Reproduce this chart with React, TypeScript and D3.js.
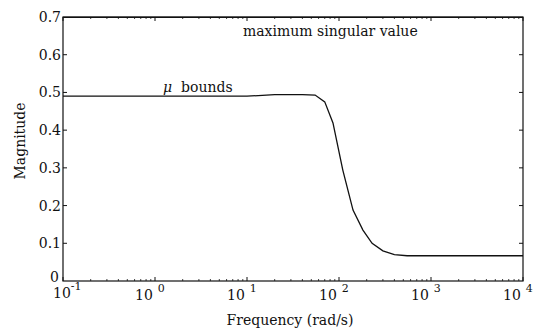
import * as React from 'react';
import * as d3 from 'd3';

// mu bounds curve (frequency in rad/s, magnitude)
const muFreq = [0.1, 1, 10, 20, 40, 55, 70, 86, 110, 142, 182, 229, 300, 400, 550, 1000, 3000, 10000];
const muMag = [0.49, 0.49, 0.49, 0.494, 0.494, 0.493, 0.475, 0.419, 0.294, 0.188, 0.135, 0.1, 0.08, 0.07, 0.067, 0.067, 0.067, 0.067];
// maximum singular value sits at the top of the frame
const svFreq = [0.1, 10000];
const svMag = [0.699, 0.699];

const yTicks = [0, 0.1, 0.2, 0.3, 0.4, 0.5, 0.6, 0.7];
const xDecades = [-1, 0, 1, 2, 3, 4];

const W = 533;
const H = 331;
const margin = { left: 63, right: 10, top: 17, bottom: 50 };
const font = '"DejaVu Serif", "Liberation Serif", serif';

const App: React.FunctionComponent = () => {
    const ref = React.useRef<SVGSVGElement>(null);

    React.useEffect(() => {
        if (!ref.current) {
            return;
        }
        const svg = d3.select(ref.current);
        svg.selectAll('*').remove();

        const x = d3.scaleLog().domain([0.1, 10000]).range([margin.left, W - margin.right]);
        const y = d3.scaleLinear().domain([0, 0.7]).range([H - margin.bottom, margin.top]);
        const [x0, x1] = x.range();
        const [y0, y1] = y.range();

        const g = svg.append('g');

        // frame
        g.append('rect')
            .attr('x', x0).attr('y', y1)
            .attr('width', x1 - x0).attr('height', y0 - y1)
            .attr('fill', 'none').attr('stroke', '#111').attr('stroke-width', 1.2);

        // y ticks, left and right, inward
        yTicks.forEach(t => {
            if (t === 0 || t === 0.7) return;
            g.append('line').attr('x1', x0).attr('x2', x0 + 4).attr('y1', y(t)).attr('y2', y(t)).attr('stroke', '#111');
            g.append('line').attr('x1', x1).attr('x2', x1 - 4).attr('y1', y(t)).attr('y2', y(t)).attr('stroke', '#111');
        });
        g.selectAll('text.ytick')
            .data(yTicks)
            .join('text')
            .attr('class', 'ytick')
            .attr('x', d => d === 0 ? x0 - 4 : x0 - 2)
            .attr('y', d => d === 0 ? y(d) + 1 : y(d) + 5)
            .attr('text-anchor', 'end')
            .attr('font-family', font)
            .attr('font-size', 14)
            .attr('fill', '#111')
            .text(d => d === 0 ? '0' : d3.format('.1f')(d));

        // x minor/major ticks on bottom and top
        const minor: number[] = [];
        xDecades.slice(0, -1).forEach(e => {
            for (let m = 2; m <= 9; m++) minor.push(m * Math.pow(10, e));
        });
        minor.forEach(v => {
            g.append('line').attr('x1', x(v)).attr('x2', x(v)).attr('y1', y0).attr('y2', y0 - 2).attr('stroke', '#111').attr('stroke-width', 0.8);
            g.append('line').attr('x1', x(v)).attr('x2', x(v)).attr('y1', y1).attr('y2', y1 + 2).attr('stroke', '#111').attr('stroke-width', 0.8);
        });
        xDecades.forEach(e => {
            const v = Math.pow(10, e);
            g.append('line').attr('x1', x(v)).attr('x2', x(v)).attr('y1', y0).attr('y2', y0 - 4).attr('stroke', '#111');
            g.append('line').attr('x1', x(v)).attr('x2', x(v)).attr('y1', y1).attr('y2', y1 + 4).attr('stroke', '#111');
            const t = g.append('text')
                .attr('x', e < 0 ? x(v) - 10 : x(v) - 20)
                .attr('y', e < 0 ? y0 + 17 : y0 + 19)
                .attr('font-family', font)
                .attr('font-size', 14)
                .attr('fill', '#111');
            t.append('tspan').text('10');
            t.append('tspan').attr('dy', -8).attr('dx', e < 0 ? 0 : 5).attr('font-size', 11).text(String(e));
        });

        // curves
        const line = d3.line<[number, number]>().x(d => x(d[0])).y(d => y(d[1]));
        g.append('path')
            .attr('d', line(muFreq.map((f, i) => [f, muMag[i]] as [number, number])) as string)
            .attr('fill', 'none').attr('stroke', '#111').attr('stroke-width', 1.3);
        g.append('path')
            .attr('d', line(svFreq.map((f, i) => [f, svMag[i]] as [number, number])) as string)
            .attr('fill', 'none').attr('stroke', '#111').attr('stroke-width', 1.3);

        // annotations
        g.append('text')
            .attr('x', 243).attr('y', 36)
            .attr('font-family', font).attr('font-size', 14).attr('fill', '#111')
            .text('maximum singular value');
        const mu = g.append('text')
            .attr('x', 163).attr('y', 92)
            .attr('font-family', font).attr('font-size', 14).attr('fill', '#111');
        mu.append('tspan').attr('font-style', 'italic').text('μ');
        mu.append('tspan').attr('dx', 9).text('bounds');

        // axis titles
        g.append('text')
            .attr('x', 290).attr('y', H - 6)
            .attr('text-anchor', 'middle')
            .attr('font-family', font).attr('font-size', 14).attr('fill', '#111')
            .text('Frequency (rad/s)');
        g.append('text')
            .attr('transform', 'translate(25,141) rotate(-90)')
            .attr('text-anchor', 'middle')
            .attr('font-family', font).attr('font-size', 14).attr('fill', '#111')
            .text('Magnitude');
    });

    return <svg ref={ref} width={W} height={H} style={{ position: 'absolute', left: 0, top: 0, background: '#fff' }} />;
};

export default App;
